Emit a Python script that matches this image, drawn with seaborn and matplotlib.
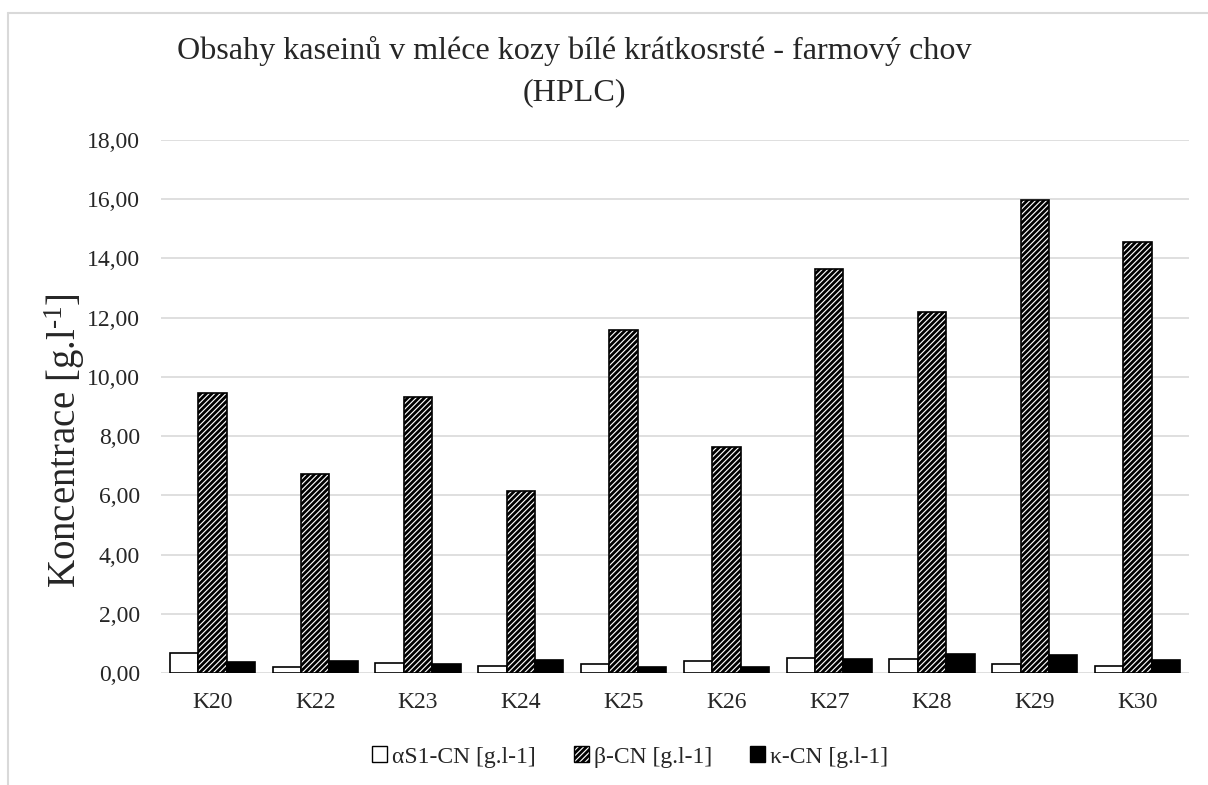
import numpy as np
import pandas as pd
import matplotlib.pyplot as plt
import matplotlib.patches as mpatches
import seaborn as sns

samples = ["K20", "K22", "K23", "K24", "K25", "K26", "K27", "K28", "K29", "K30"]
series = ["αS1-CN [g.l-1]", "β-CN [g.l-1]", "κ-CN [g.l-1]"]

alpha_s1 = [0.67, 0.20, 0.34, 0.24, 0.31, 0.39, 0.49, 0.47, 0.31, 0.22]
beta = [9.47, 6.73, 9.32, 6.16, 11.59, 7.62, 13.64, 12.19, 15.96, 14.56]
kappa = [0.37, 0.39, 0.30, 0.45, 0.21, 0.20, 0.47, 0.65, 0.61, 0.44]

title = "Obsahy kaseinů v mléce kozy bílé krátkosrsté - farmový chov\n(HPLC)"

# long format for seaborn
df = pd.DataFrame({
    "vzorek": samples * 3,
    "serie": [series[0]] * len(samples) + [series[1]] * len(samples) + [series[2]] * len(samples),
    "hodnota": alpha_s1 + beta + kappa,
})

sns.set_style("white")
plt.rcParams["font.family"] = ["Liberation Serif", "DejaVu Serif"]
plt.rcParams["mathtext.fontset"] = "custom"
plt.rcParams["mathtext.rm"] = "Liberation Serif"
plt.rcParams["mathtext.it"] = "Liberation Serif:italic"
plt.rcParams["hatch.linewidth"] = 2.0

fig = plt.figure(figsize=(12.08, 7.85), dpi=100)
ax = fig.add_axes([161 / 1208, 1 - 673 / 785, 1028 / 1208, 533 / 785])

sns.barplot(data=df, x="vzorek", y="hodnota", hue="serie", hue_order=series,
            palette=["white", "white", "black"], edgecolor="black", linewidth=1.2,
            width=0.83, legend=False, ax=ax, zorder=3)

# hatch the beta bars
for p in ax.containers[1].patches:
    p.set_hatch("//////")

ax.set_ylim(0, 18)
ax.set_xlim(-0.5, len(samples) - 0.5)
ax.set_yticks(np.arange(0, 19, 2))
ax.set_yticklabels([("%.2f" % v).replace(".", ",") for v in np.arange(0, 19, 2)])
ax.tick_params(axis="both", length=0, labelsize=17)
ax.tick_params(axis="y", pad=15)
ax.tick_params(axis="x", pad=14)
ax.set_xlabel("")
ax.set_ylabel("Koncentrace [g.l$^{\u20101}$]", fontsize=28)
ax.yaxis.set_label_coords(-0.072, 0.437)

ax.grid(axis="y", color="#d9d9d9", linewidth=1.2, zorder=0)
for s in ax.spines.values():
    s.set_visible(False)

# title, centred a bit left like in Excel
fig.text(574 / 1208, 1 - 36 / 785, title, ha="center", va="top",
         fontsize=23.1, linespacing=1.55, multialignment="center")

handles = [
    mpatches.Patch(facecolor="white", edgecolor="black", linewidth=1.0),
    mpatches.Patch(facecolor="white", edgecolor="black", linewidth=1.0, hatch="//////"),
    mpatches.Patch(facecolor="black", edgecolor="black", linewidth=1.0),
]
fig.legend(handles, series, loc="center", bbox_to_anchor=(630 / 1208, 1 - 757 / 785),
           ncol=3, frameon=False, fontsize=17, handlelength=0.65, handleheight=0.65,
           handletextpad=0.2, columnspacing=1.6)

# outer chart border (light gray)
fig.add_artist(plt.Line2D([8 / 1208, 1], [1 - 13 / 785, 1 - 13 / 785],
                          transform=fig.transFigure, color="#d9d9d9", linewidth=1.5))
fig.add_artist(plt.Line2D([8 / 1208, 8 / 1208], [0, 1 - 13 / 785],
                          transform=fig.transFigure, color="#d9d9d9", linewidth=1.5))

plt.savefig("out.png", dpi=100)
plt.close()
